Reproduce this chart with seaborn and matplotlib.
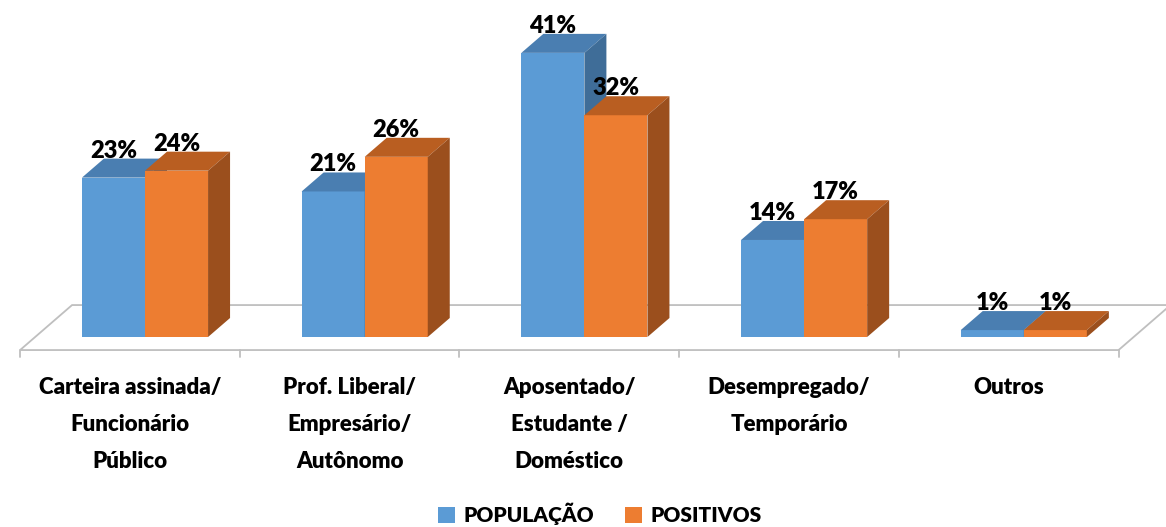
import matplotlib
matplotlib.use("Agg")

import numpy as np
import pandas as pd
import matplotlib.pyplot as plt
from matplotlib.patches import Polygon, Patch
from matplotlib.font_manager import FontProperties
import seaborn as sns

# ---------------- data ----------------
categories = [
    "Carteira assinada/\nFuncionário\nPúblico",
    "Prof. Liberal/\nEmpresário/\nAutônomo",
    "Aposentado/\nEstudante /\nDoméstico",
    "Desempregado/\nTemporário",
    "Outros",
]
populacao = [23, 21, 41, 14, 1]
positivos = [24, 26, 32, 17, 1]
series_names = ["POPULAÇÃO", "POSITIVOS"]

front_colors = ["#5B9BD5", "#ED7D31"]
top_colors = ["#4A7EB1", "#B95E21"]
side_colors = ["#3F6D98", "#9B4F1D"]

df = pd.DataFrame({
    "categoria": categories * 2,
    "valor": populacao + positivos,
    "serie": [series_names[0]] * len(categories) + [series_names[1]] * len(categories),
})

# ---------------- style ----------------
sns.set_theme(style="white")
plt.rcParams["font.family"] = ["Lato", "DejaVu Sans"]
plt.rcParams["text.color"] = "black"
plt.rcParams["xtick.color"] = "black"

# pseudo-3D geometry (pixel scale -> data units)
px_cat = 219.7
px_pct = 6.93
bar_dx, bar_dy = 22 / px_cat, 19 / px_pct      # bar depth
floor_dx, floor_dy = 52 / px_cat, 45 / px_pct  # floor depth
t0 = 0.29                                      # bar front position inside floor depth

fig = plt.figure(figsize=(11.66, 5.27), dpi=100)
ax = fig.add_axes([0, (527 - 370) / 527, 1, 370 / 527])

sns.barplot(data=df, x="categoria", y="valor", hue="serie",
            palette=front_colors, saturation=1, width=0.574,
            linewidth=0, legend=False, ax=ax)

# floor
n = len(categories)
fx0, fy0 = -t0 * floor_dx, -t0 * floor_dy
bx0, by0 = (1 - t0) * floor_dx, (1 - t0) * floor_dy
floor = Polygon([(-0.5 + fx0, fy0), (n - 0.5 + fx0, fy0),
                 (n - 0.5 + bx0, by0), (-0.5 + bx0, by0)],
                closed=True, facecolor="white", edgecolor="#BFBFBF",
                linewidth=1.3, zorder=1)
ax.add_patch(floor)
for k in range(n + 1):
    ax.plot([k - 0.5 + fx0, k - 0.5 + fx0], [fy0, fy0 - 1.0],
            color="#BFBFBF", linewidth=1.3, zorder=1)

# top and side faces + value labels
for h, cont in enumerate(ax.containers):
    for rect in cont:
        x0, w, hgt = rect.get_x(), rect.get_width(), rect.get_height()
        rect.set_zorder(3 + 3 * h)
        top = Polygon([(x0, hgt), (x0 + w, hgt), (x0 + w + bar_dx, hgt + bar_dy),
                       (x0 + bar_dx, hgt + bar_dy)], closed=True,
                      facecolor=top_colors[h], edgecolor="none", zorder=4 + 3 * h)
        side = Polygon([(x0 + w, 0), (x0 + w + bar_dx, bar_dy),
                        (x0 + w + bar_dx, hgt + bar_dy), (x0 + w, hgt)], closed=True,
                       facecolor=side_colors[h], edgecolor="none", zorder=5 + 3 * h)
        ax.add_patch(top)
        ax.add_patch(side)
        ax.text(x0 + w / 2, hgt + 3.9, f"{hgt:.0f}%", ha="center", va="center",
                fontsize=17, fontweight="heavy", color="black", zorder=20)

ax.set_xlim(-145 / px_cat, (1166 - 145) / px_cat)
ax.set_ylim((337 - 370) / px_pct, 337 / px_pct)

ax.set_xticks(np.arange(n) + fx0, categories)
ax.tick_params(axis="x", length=0, pad=5)
for lab in ax.get_xticklabels():
    lab.set_fontsize(16)
    lab.set_fontweight("heavy")
    lab.set_linespacing(1.95)
    lab.set_multialignment("center")
    lab.set_color("black")
ax.set_yticks([])
ax.set_xlabel("")
ax.set_ylabel("")
for s in ax.spines.values():
    s.set_visible(False)

handles = [Patch(facecolor=c, edgecolor="none") for c in front_colors]
leg_font = FontProperties(family=["Lato", "DejaVu Sans"], weight="heavy", size=15)
leg = fig.legend(handles, series_names, loc="center",
                 bbox_to_anchor=(600 / 1166, 1 - 514 / 527), ncol=2, frameon=False,
                 handlelength=0.8, handleheight=0.8, handletextpad=0.4,
                 columnspacing=1.5, prop=leg_font)
for t in leg.get_texts():
    t.set_color("black")

fig.savefig("out.png", dpi=100)
